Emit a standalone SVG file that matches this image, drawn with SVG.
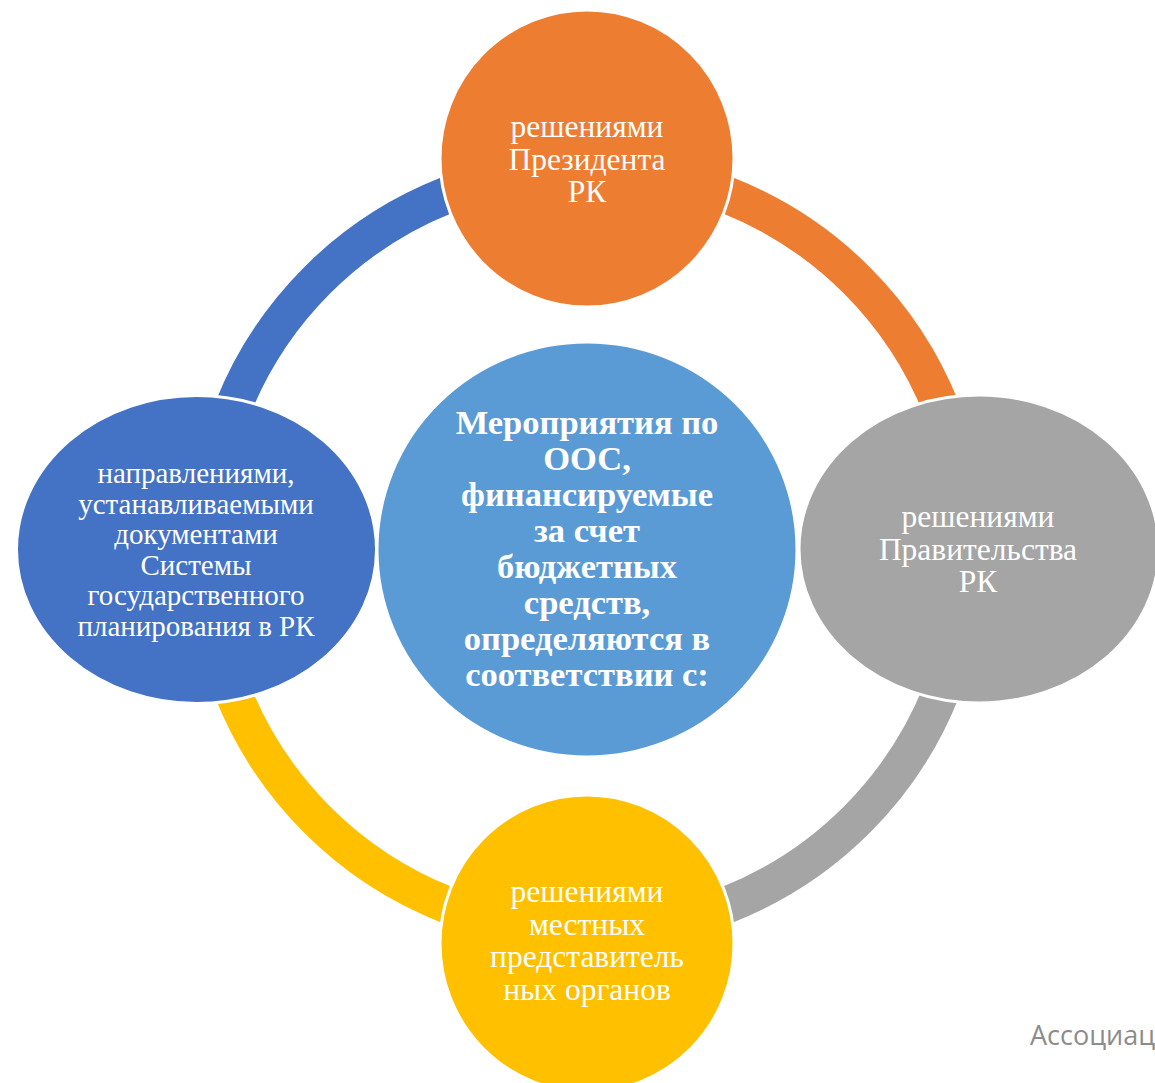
<svg xmlns="http://www.w3.org/2000/svg" width="1155" height="1083" viewBox="0 0 1155 1083">
<style>
.arc{fill:none;stroke-width:37}
.node{stroke:#fff;stroke-width:3}
.t{font-family:"Liberation Serif","Times New Roman",serif;fill:#fff;text-anchor:middle}
.r{font-size:31.5px}
.b{font-size:34.5px;font-weight:bold}
.l{font-size:29px}
</style>
<rect width="1155" height="1083" fill="#fff"/>
<g id="connectors">
<path class="arc" stroke="#4472C4" d="M205.5 550A381.5 381.5 0 0 1 587 168.5"/>
<path class="arc" stroke="#ED7D31" d="M587 168.5A381.5 381.5 0 0 1 968.5 550"/>
<path class="arc" stroke="#A5A5A5" d="M968.5 550A381.5 381.5 0 0 1 587 931.5"/>
<path class="arc" stroke="#FFC000" d="M587 931.5A381.5 381.5 0 0 1 205.5 550"/>
</g>
<g id="center">
<ellipse class="node" cx="587" cy="549.5" rx="210" ry="207.5" fill="#5B9BD5"/>
<text class="t b"><tspan x="587" y="434">Мероприятия по</tspan><tspan x="587" y="470">ООС,</tspan><tspan x="587" y="506">финансируемые</tspan><tspan x="587" y="542">за счет</tspan><tspan x="587" y="578">бюджетных</tspan><tspan x="587" y="614">средств,</tspan><tspan x="587" y="650">определяются в</tspan><tspan x="587" y="686">соответствии с:</tspan></text>
</g>
<g id="top">
<ellipse class="node" cx="587" cy="158.5" rx="147" ry="148.5" fill="#ED7D31"/>
<text class="t r"><tspan x="587" y="137">решениями</tspan><tspan x="587" y="169.5">Президента</tspan><tspan x="587" y="202">РК</tspan></text>
</g>
<g id="right">
<ellipse class="node" cx="979" cy="549" rx="180" ry="154" fill="#A5A5A5"/>
<text class="t r"><tspan x="978" y="527">решениями</tspan><tspan x="978" y="559.5">Правительства</tspan><tspan x="978" y="592">РК</tspan></text>
</g>
<g id="bottom">
<ellipse class="node" cx="587" cy="943.5" rx="147" ry="148.5" fill="#FFC000"/>
<text class="t r"><tspan x="587" y="902">решениями</tspan><tspan x="587" y="934.5">местных</tspan><tspan x="587" y="967">представитель</tspan><tspan x="587" y="999.5">ных органов</tspan></text>
</g>
<g id="left">
<ellipse class="node" cx="196.5" cy="549.5" rx="180" ry="154" fill="#4472C4"/>
<text class="t l"><tspan x="196" y="483">направлениями,</tspan><tspan x="196" y="513.5">устанавливаемыми</tspan><tspan x="196" y="544">документами</tspan><tspan x="196" y="574.5">Системы</tspan><tspan x="196" y="605">государственного</tspan><tspan x="196" y="635.5">планирования в РК</tspan></text>
</g>
<text x="1030" y="1045" font-family="'Open Sans','Liberation Sans',sans-serif" font-size="27" fill="#8C8C8C">Ассоциац</text>
</svg>
